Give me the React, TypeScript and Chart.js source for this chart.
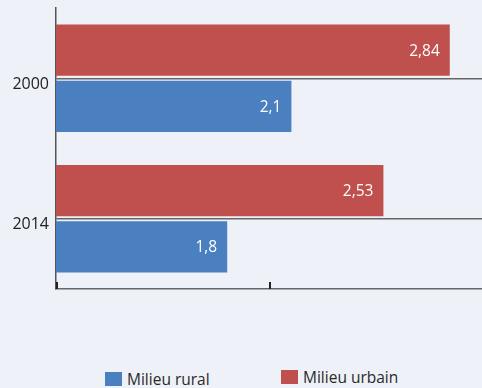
import React, { useEffect, useRef } from "react";
import { Chart, registerables } from "chart.js";

Chart.register(...registerables);

const categories = ["2000", "2014"];
const urbainValues = [2.84, 2.53];
const ruralValues = [2.1, 1.8];
const seriesNames = ["Milieu urbain", "Milieu rural"];
const colors = { urbain: "#c0504d", rural: "#4a7fc0" };
const xMin = 1;
const xMax = 3;
const FONT = "'Open Sans', 'Noto Sans', sans-serif";
const BG = "#eef1f7";

const fmt = (v: number) => String(v).replace(".", ",");

const valueLabels = {
  id: "valueLabels",
  afterDatasetsDraw(chart: any) {
    const ctx = chart.ctx;
    ctx.save();
    ctx.fillStyle = "#ffffff";
    ctx.font = `15.5px ${FONT}`;
    ctx.textAlign = "right";
    ctx.textBaseline = "middle";
    chart.data.datasets.forEach((ds: any, di: number) => {
      const meta = chart.getDatasetMeta(di);
      meta.data.forEach((bar: any, i: number) => {
        ctx.fillText(fmt(ds.data[i]), bar.x - 10, bar.y + 1);
      });
    });
    ctx.restore();
  },
};

const innerTicks = {
  id: "innerTicks",
  afterDraw(chart: any) {
    const ctx = chart.ctx;
    const xs = chart.scales.x;
    const bottom = chart.chartArea.bottom;
    ctx.save();
    ctx.strokeStyle = "#222";
    ctx.lineWidth = 2;
    xs.ticks.forEach((t: any) => {
      const px = Math.round(xs.getPixelForValue(t.value));
      ctx.beginPath();
      ctx.moveTo(px + (t.value === xMin ? 1 : 0), bottom - 7);
      ctx.lineTo(px + (t.value === xMin ? 1 : 0), bottom);
      ctx.stroke();
    });
    ctx.restore();
  },
};

export default function App() {
  const ref = useRef<HTMLCanvasElement | null>(null);

  useEffect(() => {
    if (!ref.current) return;
    const chart = new Chart(ref.current, {
      type: "bar",
      data: {
        labels: categories,
        datasets: [
          {
            label: seriesNames[0],
            data: urbainValues,
            backgroundColor: colors.urbain,
            categoryPercentage: 0.8,
            barPercentage: 0.91,
          },
          {
            label: seriesNames[1],
            data: ruralValues,
            backgroundColor: colors.rural,
            categoryPercentage: 0.8,
            barPercentage: 0.91,
          },
        ],
      },
      options: {
        indexAxis: "y",
        animation: false,
        responsive: false,
        maintainAspectRatio: false,
        layout: { padding: { top: 8, left: 0, right: 0, bottom: 0 } },
        plugins: {
          legend: { display: false },
          tooltip: { enabled: false },
        },
        scales: {
          x: {
            min: xMin,
            max: xMax,
            ticks: { display: false, stepSize: 1 },
            grid: { drawOnChartArea: false, drawTicks: false },
            border: { display: true, color: "#666", width: 1.5 },
            afterFit: (s: any) => {
              s.height = 11;
              s.paddingLeft = 0;
              s.paddingRight = 0;
            },
          },
          y: {
            offset: true,
            ticks: {
              color: "#222",
              font: { family: FONT, size: 16 },
              padding: 7,
              labelOffset: 6,
            },
            grid: {
              offset: false,
              color: "#666",
              lineWidth: 1.5,
              drawTicks: false,
            },
            border: { display: true, color: "#555", width: 1.5 },
            afterFit: (s: any) => {
              s.width = 56;
              s.paddingTop = 0;
              s.paddingBottom = 0;
            },
          },
        },
      },
      plugins: [valueLabels, innerTicks],
    });
    return () => chart.destroy();
  }, []);

  const legendText: React.CSSProperties = {
    position: "absolute",
    fontFamily: FONT,
    fontSize: 15.5,
    color: "#2a2a2a",
    whiteSpace: "nowrap",
    lineHeight: "16px",
  };

  return (
    <div
      style={{
        position: "fixed",
        left: 0,
        top: 0,
        width: 482,
        height: 388,
        background: BG,
        overflow: "hidden",
      }}
    >
      <canvas ref={ref} width={484} height={300} style={{ display: "block" }} />
      <div style={{ position: "absolute", left: 105, top: 372, width: 17, height: 14, background: colors.rural }} />
      <div style={{ ...legendText, left: 127, top: 371 }}>Milieu rural</div>
      <div style={{ position: "absolute", left: 281, top: 370, width: 17, height: 14, background: colors.urbain }} />
      <div style={{ ...legendText, left: 303, top: 369 }}>Milieu urbain</div>
    </div>
  );
}
